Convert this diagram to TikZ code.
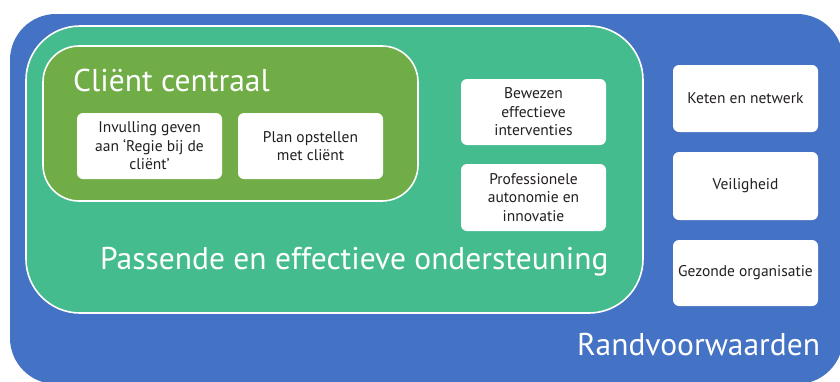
\documentclass[tikz,border=0pt]{standalone}
\usepackage{fontspec}
\setmainfont{PT Sans}

\definecolor{randblue}{HTML}{4472C4}
\definecolor{passteal}{HTML}{44BC8E}
\definecolor{clientgreen}{HTML}{70AD47}
\definecolor{boxtext}{HTML}{231F20}

\tikzset{
  itembox/.style={fill=white, rounded corners=6pt, minimum width=145pt,
    minimum height=66pt, align=center, text=boxtext, inner sep=2pt,
    font=\fontsize{15.5}{18.5}\selectfont},
  bigtitle/.style={text=white, anchor=base west, inner sep=0pt,
    font=\fontsize{31.5}{34}\selectfont},
  layer/.style={draw=white, line width=1.6pt},
}

\begin{document}
\begin{tikzpicture}[x=1pt,y=-1pt]
\useasboundingbox (0,0) rectangle (840,381);
\clip (0,0) rectangle (840,381);

%outer layer: randvoorwaarden
\fill[randblue, rounded corners=46pt] (10,14) rectangle (843,384);
%middle layer: passende ondersteuning
\filldraw[layer, fill=passteal, rounded corners=54pt] (26,26) rectangle (643,313);
%inner layer: client centraal
\filldraw[layer, fill=clientgreen, rounded corners=36pt] (43,46) rectangle (418,201);

\node[bigtitle] (client) at (73,91) {Cliënt centraal};
\node[bigtitle] (passend) at (100,269) {Passende en effectieve ondersteuning};
\node[bigtitle] (rand) at (577,355) {Randvoorwaarden};

%boxes in the client layer
\node[itembox] (regie) at (149.5,146) {Invulling geven\\aan ‘Regie bij de\\cliënt’};
\node[itembox] (plan) at (310.5,146) {Plan opstellen\\met cliënt};

%boxes in the ondersteuning layer
\node[itembox] (bewezen) at (533.5,112) {Bewezen\\effectieve\\interventies};
\node[itembox, minimum height=67pt] (autonomie) at (533.5,197.5) {Professionele\\autonomie en\\innovatie};

%boxes in the randvoorwaarden layer
\node[itembox, minimum height=67pt] (keten) at (745.5,98.5) {Keten en netwerk};
\node[itembox, minimum height=68pt] (veilig) at (745.5,186) {Veiligheid};
\node[itembox] (gezond) at (745.5,273) {Gezonde organisatie};

\end{tikzpicture}
\end{document}
